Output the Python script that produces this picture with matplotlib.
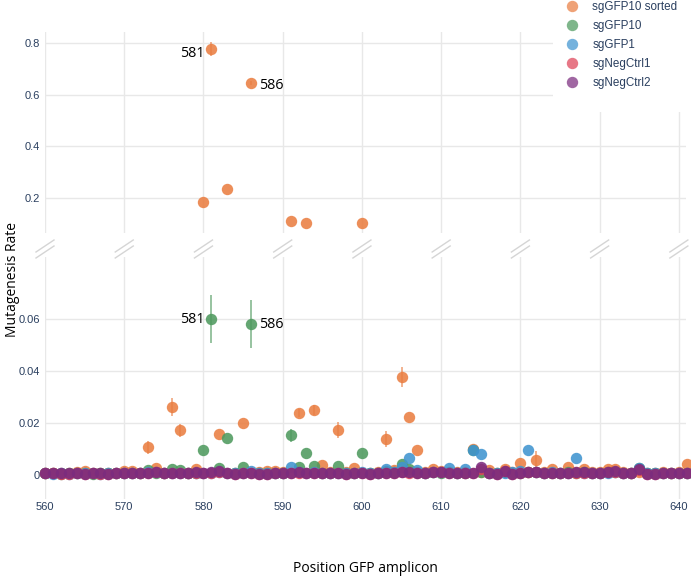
import matplotlib
matplotlib.use('Agg')
import matplotlib.pyplot as plt
from matplotlib.lines import Line2D
from matplotlib.patches import Rectangle

# ---------------- data ----------------
positions = list(range(560, 642))

series_names = ["sgGFP10 sorted", "sgGFP10", "sgGFP1", "sgNegCtrl1", "sgNegCtrl2"]

sgGFP10_sorted = [
    0.0007, 0.0007, 0.0006, 0.0008, 0.0013, 0.0014, 0.0007, 0.0006, 0.0008, 0.0009,  # 560-569
    0.0016, 0.0016, 0.0008, 0.0106, 0.0026, 0.0009, 0.0263, 0.0173, 0.0008, 0.0022,  # 570-579
    0.186, 0.777, 0.0156, 0.235, 0.0009, 0.0199, 0.645, 0.0013, 0.0016, 0.0016,      # 580-589
    0.0012, 0.111, 0.0237, 0.105, 0.0251, 0.0038, 0.0010, 0.0173, 0.0012, 0.0028,    # 590-599
    0.103, 0.0009, 0.0010, 0.0138, 0.0018, 0.0377, 0.0224, 0.0096, 0.0012, 0.0023,   # 600-609
    0.0014, 0.0010, 0.0012, 0.0010, 0.0100, 0.0011, 0.0020, 0.0009, 0.0024, 0.0010,  # 610-619
    0.0045, 0.0012, 0.0057, 0.0011, 0.0022, 0.0009, 0.0031, 0.0012, 0.0022, 0.0010,  # 620-629
    0.0012, 0.0022, 0.0022, 0.0010, 0.0009, 0.0011, 0.0008, 0.0008, 0.0010, 0.0009,  # 630-639
    0.0011, 0.0042,                                                                   # 640-641
]
sgGFP10 = [
    0.0006, 0.0006, 0.0005, 0.0006, 0.0007, 0.0006, 0.0005, 0.0006, 0.0007, 0.0006,
    0.0008, 0.0007, 0.0006, 0.0018, 0.0009, 0.0008, 0.0025, 0.0018, 0.0007, 0.0009,
    0.0096, 0.0600, 0.0027, 0.0144, 0.0008, 0.0030, 0.0580, 0.0007, 0.0008, 0.0007,
    0.0008, 0.0153, 0.0030, 0.0083, 0.0035, 0.0009, 0.0008, 0.0035, 0.0008, 0.0009,
    0.0083, 0.0007, 0.0008, 0.0016, 0.0010, 0.0043, 0.0025, 0.0012, 0.0009, 0.0011,
    0.0009, 0.0010, 0.0008, 0.0009, 0.0095, 0.0012, 0.0008, 0.0007, 0.0010, 0.0008,
    0.0009, 0.0010, 0.0011, 0.0008, 0.0009, 0.0007, 0.0010, 0.0009, 0.0010, 0.0008,
    0.0009, 0.0010, 0.0011, 0.0008, 0.0007, 0.0026, 0.0007, 0.0006, 0.0008, 0.0007,
    0.0009, 0.0008,
]
sgGFP1 = [
    0.0006, 0.0005, 0.0006, 0.0005, 0.0006, 0.0007, 0.0006, 0.0005, 0.0006, 0.0007,
    0.0007, 0.0006, 0.0007, 0.0012, 0.0013, 0.0007, 0.0008, 0.0007, 0.0006, 0.0008,
    0.0008, 0.0009, 0.0010, 0.0008, 0.0007, 0.0009, 0.0015, 0.0007, 0.0008, 0.0007,
    0.0008, 0.0032, 0.0010, 0.0009, 0.0010, 0.0008, 0.0007, 0.0009, 0.0007, 0.0008,
    0.0013, 0.0007, 0.0008, 0.0022, 0.0010, 0.0032, 0.0064, 0.0019, 0.0009, 0.0012,
    0.0010, 0.0027, 0.0009, 0.0022, 0.0097, 0.0081, 0.0008, 0.0007, 0.0009, 0.0012,
    0.0014, 0.0096, 0.0010, 0.0008, 0.0010, 0.0007, 0.0009, 0.0064, 0.0009, 0.0007,
    0.0008, 0.0009, 0.0010, 0.0007, 0.0008, 0.0028, 0.0007, 0.0006, 0.0007, 0.0008,
    0.0007, 0.0008,
]
sgNegCtrl1 = [
    0.0006, 0.0006, 0.0005, 0.0005, 0.0006, 0.0005, 0.0006, 0.0005, 0.0005, 0.0006,
    0.0007, 0.0007, 0.0006, 0.0008, 0.0010, 0.0006, 0.0007, 0.0006, 0.0006, 0.0008,
    0.0007, 0.0009, 0.0010, 0.0007, 0.0005, 0.0008, 0.0007, 0.0005, 0.0005, 0.0006,
    0.0006, 0.0008, 0.0009, 0.0007, 0.0008, 0.0006, 0.0006, 0.0007, 0.0005, 0.0006,
    0.0006, 0.0005, 0.0006, 0.0008, 0.0008, 0.0012, 0.0009, 0.0007, 0.0008, 0.0010,
    0.0010, 0.0007, 0.0006, 0.0006, 0.0006, 0.0023, 0.0006, 0.0005, 0.0014, 0.0005,
    0.0006, 0.0010, 0.0011, 0.0006, 0.0008, 0.0006, 0.0006, 0.0009, 0.0009, 0.0006,
    0.0006, 0.0010, 0.0012, 0.0006, 0.0006, 0.0018, 0.0005, 0.0005, 0.0006, 0.0006,
    0.0007, 0.0008,
]
sgNegCtrl2 = [
    0.0007, 0.0007, 0.0006, 0.0006, 0.0006, 0.0005, 0.0006, 0.0006, 0.0005, 0.0006,
    0.0008, 0.0008, 0.0006, 0.0009, 0.0012, 0.0006, 0.0008, 0.0006, 0.0007, 0.0010,
    0.0008, 0.0010, 0.0014, 0.0008, 0.0005, 0.0009, 0.0008, 0.0005, 0.0005, 0.0006,
    0.0006, 0.0009, 0.0010, 0.0008, 0.0009, 0.0006, 0.0007, 0.0008, 0.0005, 0.0007,
    0.0006, 0.0005, 0.0006, 0.0009, 0.0009, 0.0013, 0.0010, 0.0008, 0.0009, 0.0011,
    0.0012, 0.0008, 0.0007, 0.0007, 0.0006, 0.0030, 0.0006, 0.0005, 0.0017, 0.0005,
    0.0006, 0.0012, 0.0013, 0.0007, 0.0009, 0.0006, 0.0007, 0.0010, 0.0010, 0.0006,
    0.0007, 0.0011, 0.0014, 0.0006, 0.0006, 0.0022, 0.0005, 0.0005, 0.0006, 0.0007,
    0.0008, 0.0009,
]

# error bars (position, half-width)
sgGFP10_sorted_err_pos = [573, 576, 577, 581, 586, 592, 594, 597, 603, 605, 614, 622]
sgGFP10_sorted_err = [0.0025, 0.0035, 0.0025, 0.026, 0.006, 0.0015, 0.002, 0.003, 0.003, 0.0038, 0.0015, 0.0035]
sgGFP10_err_pos = [581, 586, 591]
sgGFP10_err = [0.0094, 0.0093, 0.0025]

labels_pos = [581, 586]
x_ticks = [560, 570, 580, 590, 600, 610, 620, 630, 640]
top_ticks = [0.2, 0.4, 0.6, 0.8]
top_tick_labels = ["0.2", "0.4", "0.6", "0.8"]
bot_ticks = [0, 0.02, 0.04, 0.06]
bot_tick_labels = ["0", "0.02", "0.04", "0.06"]

# ---------------- style ----------------
colors = ["#EA7E42", "#4E9A5E", "#4094D0", "#DE4358", "#7B2C7E"]
alpha = 0.88
leg_alpha = 0.72
tick_color = "#2A3F5F"
grid_color = "#E8E8E8"
tick_font = "Liberation Sans"
tick_size = 8

W, H = 691, 582
fig = plt.figure(figsize=(W / 100, H / 100), dpi=100)


def box(left, top, right, bottom):
    return [left / W, 1 - bottom / H, (right - left) / W, (bottom - top) / H]


ax_top = fig.add_axes(box(45, 32, 686, 233))
ax_bot = fig.add_axes(box(45, 257, 686, 499))

xlim = (560, 640.9)
top_lim = (0.0645, 0.8426)
bot_lim = (-(499 - 475) / 2600, 0.08385)

all_series = [sgGFP10_sorted, sgGFP10, sgGFP1, sgNegCtrl1, sgNegCtrl2]
errs = {0: (sgGFP10_sorted_err_pos, sgGFP10_sorted_err), 1: (sgGFP10_err_pos, sgGFP10_err)}

for ax, (lo, hi) in ((ax_top, top_lim), (ax_bot, bot_lim)):
    for i, vals in enumerate(all_series):
        xs = [p for p, v in zip(positions, vals) if lo <= v <= hi]
        ys = [v for v in vals if lo <= v <= hi]
        if i in errs:
            ep, ev = errs[i]
            ex, ey, ee = [], [], []
            for p, e in zip(ep, ev):
                v = vals[positions.index(p)]
                if lo <= v <= hi:
                    ex.append(p); ey.append(v); ee.append(e)
            if ex:
                ax.errorbar(ex, ey, yerr=ee, fmt='none', ecolor=colors[i], elinewidth=1.1,
                            capsize=0, alpha=0.75, zorder=2 + i)
        ax.plot(xs, ys, 'o', color=colors[i], ms=8.2, mec='none', alpha=alpha,
                zorder=2 + i, clip_on=False)
    ax.set_xlim(*xlim)
    ax.set_ylim(lo, hi)
    for s in ax.spines.values():
        s.set_visible(False)
    ax.set_xticks(x_ticks)
    ax.grid(True, color=grid_color, lw=1)
    ax.set_axisbelow(True)
    ax.tick_params(length=0, colors=tick_color, labelsize=tick_size)
    ax.tick_params(axis='y', pad=3.5)
    ax.tick_params(axis='x', pad=2.5)

ax_top.set_yticks(top_ticks)
ax_top.set_yticklabels(top_tick_labels, fontfamily=tick_font)
ax_top.tick_params(axis='x', labelbottom=False)
ax_bot.set_yticks(bot_ticks)
ax_bot.set_yticklabels(bot_tick_labels, fontfamily=tick_font)
ax_bot.set_xticklabels([str(v) for v in x_ticks], fontfamily=tick_font)

# annotations for labelled positions
ann_font = dict(fontsize=10.3, color="black", family="Open Sans")
for ax, vals, dys in ((ax_top, sgGFP10_sorted, (-3, -2)), (ax_bot, sgGFP10, (0, 0))):
    p0, p1 = labels_pos
    v0 = vals[positions.index(p0)]
    v1 = vals[positions.index(p1)]
    ax.annotate(str(p0), (p0, v0), xytext=(-5, dys[0]), textcoords='offset points',
                ha='right', va='center', **ann_font)
    ax.annotate(str(p1), (p1, v1), xytext=(6, dys[1]), textcoords='offset points',
                ha='left', va='center', **ann_font)

# axis break marks at each vertical gridline
fig.canvas.draw()
for xv in x_ticks:
    xpix = ax_bot.transData.transform((xv, 0))[0]
    for dy in (0, 6):
        y0 = 252 + dy
        fig.add_artist(Line2D([(xpix - 9) / W, (xpix + 9) / W],
                              [1 - y0 / H, 1 - (y0 - 12) / H],
                              color="#D5D5D5", lw=1, transform=fig.transFigure))

# axis titles
fig.text(0.5 * (45 + 686) / W, 1 - 568 / H, "Position GFP amplicon", ha='center', va='center',
         fontsize=10, family="Open Sans", color="black")
fig.text(13 / W, 1 - 279 / H, "Mutagenesis Rate", ha='center', va='center', rotation=90,
         fontsize=10, family="Open Sans", color="black")

# legend
fig.add_artist(Rectangle((553 / W, 1 - 112 / H), (W - 553) / W, 112 / H, transform=fig.transFigure,
                         facecolor="white", edgecolor="none", zorder=5))
handles = [Line2D([0], [0], marker='o', ls='none', color=c, mec='none', ms=8.2, alpha=leg_alpha)
           for c in colors]
leg = fig.legend(handles, series_names, loc='upper left', bbox_to_anchor=(566 / W, 1 - 1 / H),
                 bbox_transform=fig.transFigure, frameon=False, fontsize=8.4, handlelength=1.0,
                 handletextpad=1.25, labelspacing=0.6, borderpad=0, borderaxespad=0)
leg.set_zorder(6)
for t in leg.get_texts():
    t.set_color(tick_color)
    t.set_fontfamily("Liberation Sans")

fig.savefig("out.png", dpi=100)
